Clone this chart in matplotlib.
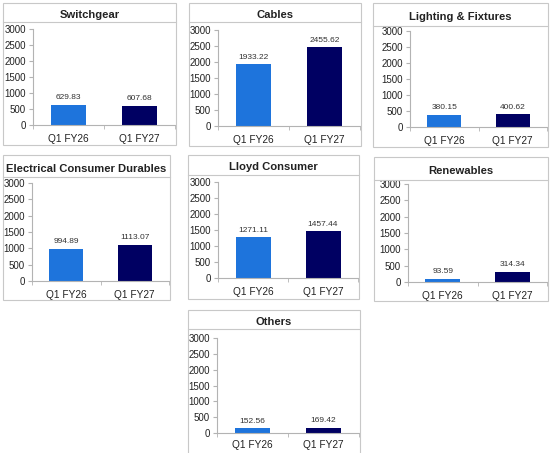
import matplotlib.pyplot as plt
from matplotlib.patches import Rectangle
from matplotlib.lines import Line2D

plt.rcParams['font.family'] = ['Liberation Sans', 'DejaVu Sans']

titles = ['Switchgear', 'Cables', 'Lighting & Fixtures', 'Electrical Consumer Durables',
          'Lloyd Consumer', 'Renewables', 'Others']
categories = ['Q1 FY26', 'Q1 FY27']
fy26 = [629.83, 1933.22, 380.15, 994.89, 1271.11, 93.59, 152.56]
fy27 = [607.68, 2455.62, 400.62, 1113.07, 1457.44, 314.34, 169.42]
yticks = [0, 500, 1000, 1500, 2000, 2500, 3000]

# pixel layout of each panel: box left, top, right, bottom, title line, axis left, y(3000), y(0), label pad
layout = [
    (3, 3, 176, 145, 22, 33, 29, 125, 6.5),
    (189, 3, 361, 146, 22, 218, 30, 126, 6.5),
    (373, 3, 548, 147, 26, 410, 31, 127, 6.5),
    (3, 155, 170, 300, 177, 32, 183, 281, 6.5),
    (188, 155, 359, 299, 175, 218, 182, 278, 6.5),
    (374, 157, 548, 301, 180, 408, 184, 282, 6.5),
    (188, 310, 360, 456, 329, 217, 338, 433, 5),
]

W, H = 550, 453
fig = plt.figure(figsize=(W / 100, H / 100), dpi=100)
light = '#1e74dc'
dark = '#000062'
edge = '#c8c8c8'
axc = '#b3b3b3'


def fx(px):
    return px / W


def fy(py):
    return 1 - py / H


for i, t in enumerate(titles):
    bl, bt, br, bb, tl, al, ytop, ybot, lpad = layout[i]
    fig.patches.append(Rectangle((fx(bl), fy(bb)), fx(br - bl), (bb - bt) / H,
                                 transform=fig.transFigure, fill=False,
                                 edgecolor=edge, linewidth=0.8))
    fig.lines.append(Line2D([fx(bl), fx(br)], [fy(tl), fy(tl)],
                            transform=fig.transFigure, color=edge, linewidth=0.8))
    fig.text(fx((bl + br) / 2), fy((bt + tl) / 2 + 2.5), t, ha='center', va='center',
             fontsize=8.1, fontweight='bold', color='#222222')

    ax = fig.add_axes([fx(al), fy(ybot), fx(br - 1 - al), (ybot - ytop) / H])
    ax.bar([0, 1], [fy26[i], fy27[i]], width=0.5, color=[light, dark])
    for x, v in zip([0, 1], [fy26[i], fy27[i]]):
        ax.annotate(f'{v:.2f}', (x, v), xytext=(0, 2.5), textcoords='offset points',
                    ha='center', va='bottom', fontsize=6, color='#333333')
    ax.set_xlim(-0.5, 1.5)
    ax.set_ylim(0, 3000)
    ax.set_yticks(yticks)
    ax.set_xticks([0, 1])
    ax.set_xticklabels(categories)
    ax.set_xticks([-0.5, 0.5, 1.5], minor=True)
    ax.tick_params(axis='x', which='major', length=0, labelsize=7.3, pad=lpad, labelcolor='#222222')
    ax.tick_params(axis='x', which='minor', length=3, color=axc)
    ax.tick_params(axis='y', length=3, color=axc, labelsize=7, pad=2, labelcolor='#222222')
    for s in ['top', 'right']:
        ax.spines[s].set_visible(False)
    for s in ['left', 'bottom']:
        ax.spines[s].set_color(axc)
        ax.spines[s].set_linewidth(0.8)
    ax.patch.set_alpha(0)

fig.savefig('out.png', dpi=100)
